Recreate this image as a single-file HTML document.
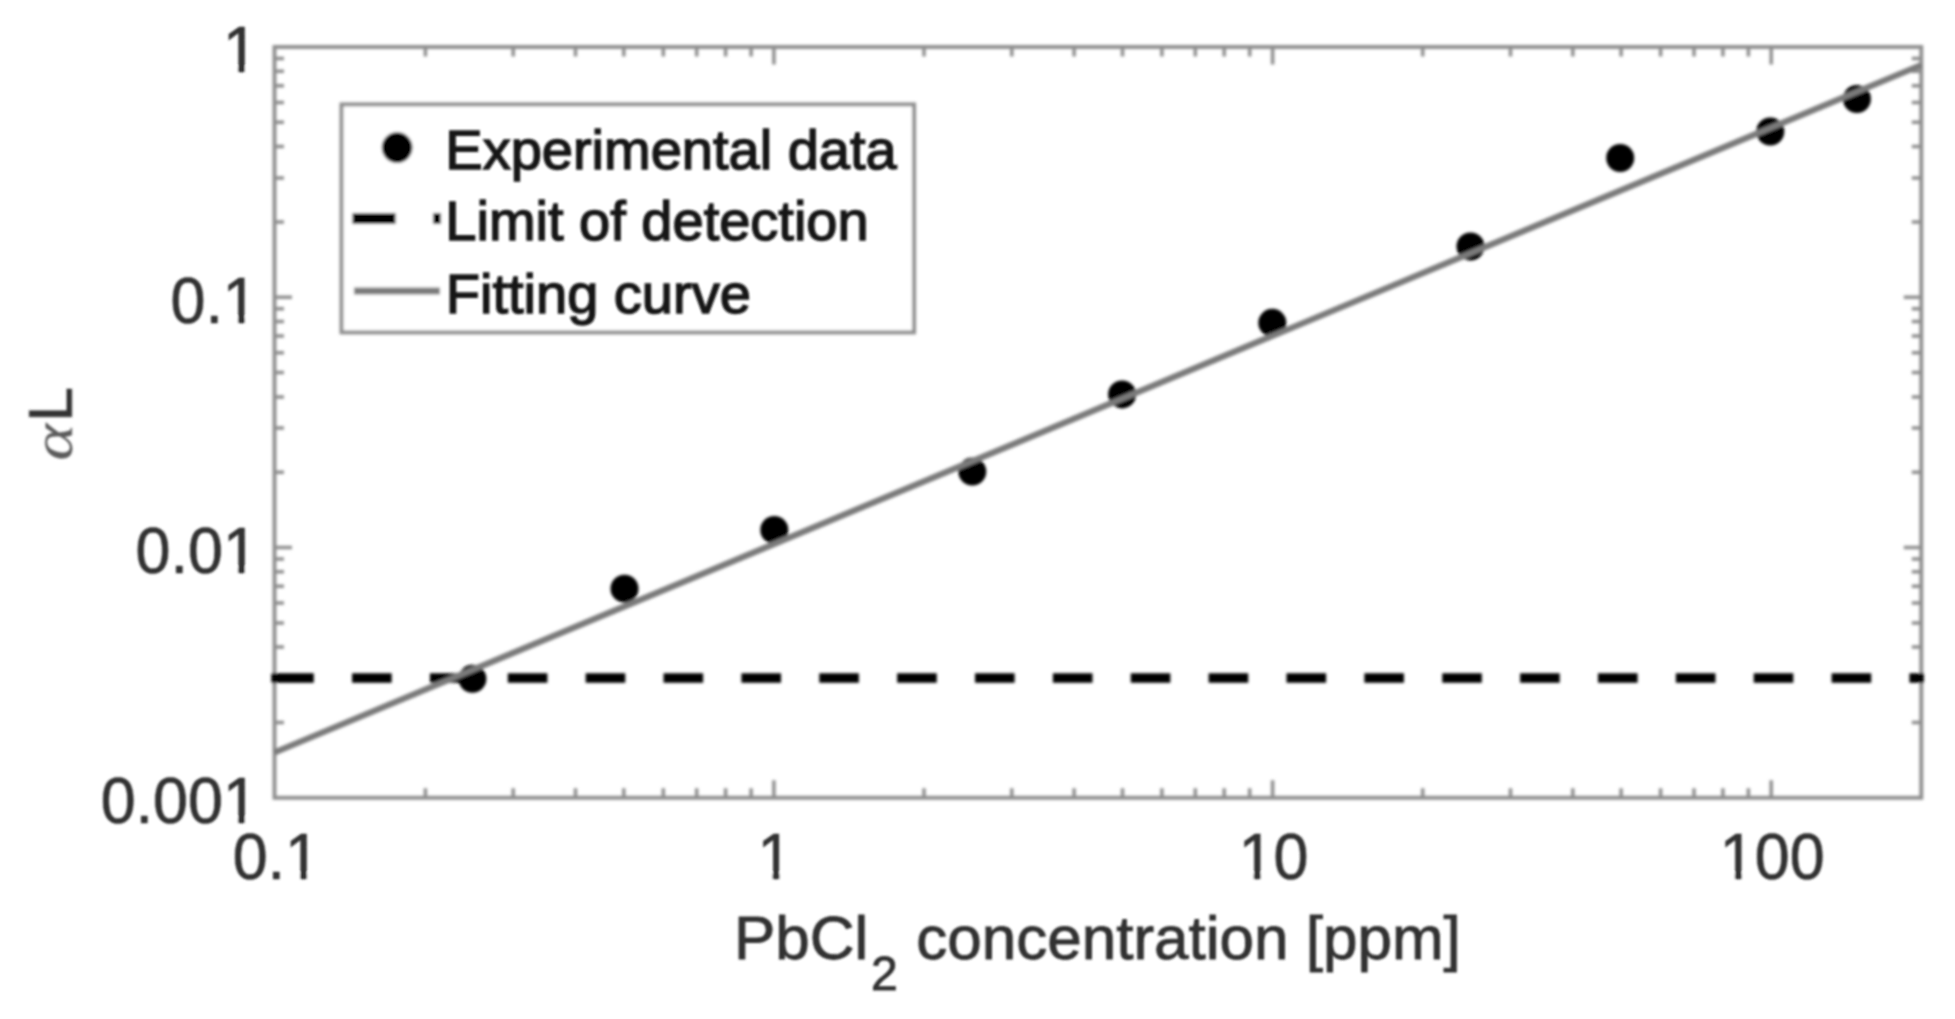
<!DOCTYPE html>
<html lang="en"><head><meta charset="utf-8"><title>PbCl2 concentration vs absorbance</title>
<style>
html,body{margin:0;padding:0;background:#fff;}
body{width:1955px;height:1019px;overflow:hidden;}
svg{display:block;}
text{font-family:"Liberation Sans",sans-serif;fill:#303030;stroke:#303030;stroke-width:0.9px;}
.tl{font-size:62px;}
.tk{font-size:62.8px;stroke-width:0.7px;}
.lg{font-size:56px;fill:#151515;stroke:#151515;stroke-width:1.5px;}
.al{font-family:"Liberation Serif",serif;font-style:italic;fill:#5c5c5c;stroke:none;}
</style></head><body>
<svg width="1955" height="1019" viewBox="0 0 1955 1019">
<defs><filter id="b" x="-2%" y="-2%" width="104%" height="104%"><feGaussianBlur stdDeviation="1.4"/></filter><filter id="bt" x="-2%" y="-2%" width="104%" height="104%"><feGaussianBlur stdDeviation="1.05"/></filter></defs>
<rect width="1955" height="1019" fill="#fff"/>
<g filter="url(#b)">
<path d="M425.4 797.8v-9.5M425.4 47.0v9.5M513.2 797.8v-9.5M513.2 47.0v9.5M575.5 797.8v-9.5M575.5 47.0v9.5M623.8 797.8v-9.5M623.8 47.0v9.5M663.3 797.8v-9.5M663.3 47.0v9.5M696.7 797.8v-9.5M696.7 47.0v9.5M725.6 797.8v-9.5M725.6 47.0v9.5M751.1 797.8v-9.5M751.1 47.0v9.5M773.9 797.8v-17.5M773.9 47.0v17.5M924.0 797.8v-9.5M924.0 47.0v9.5M1011.8 797.8v-9.5M1011.8 47.0v9.5M1074.1 797.8v-9.5M1074.1 47.0v9.5M1122.5 797.8v-9.5M1122.5 47.0v9.5M1161.9 797.8v-9.5M1161.9 47.0v9.5M1195.3 797.8v-9.5M1195.3 47.0v9.5M1224.2 797.8v-9.5M1224.2 47.0v9.5M1249.7 797.8v-9.5M1249.7 47.0v9.5M1272.6 797.8v-17.5M1272.6 47.0v17.5M1422.7 797.8v-9.5M1422.7 47.0v9.5M1510.5 797.8v-9.5M1510.5 47.0v9.5M1572.8 797.8v-9.5M1572.8 47.0v9.5M1621.1 797.8v-9.5M1621.1 47.0v9.5M1660.6 797.8v-9.5M1660.6 47.0v9.5M1694.0 797.8v-9.5M1694.0 47.0v9.5M1722.9 797.8v-9.5M1722.9 47.0v9.5M1748.4 797.8v-9.5M1748.4 47.0v9.5M1771.2 797.8v-17.5M1771.2 47.0v17.5M274.5 722.5h9.5M1921.3 722.5h-9.5M274.5 678.4h9.5M1921.3 678.4h-9.5M274.5 647.1h9.5M1921.3 647.1h-9.5M274.5 622.9h9.5M1921.3 622.9h-9.5M274.5 603.1h9.5M1921.3 603.1h-9.5M274.5 586.3h9.5M1921.3 586.3h-9.5M274.5 571.8h9.5M1921.3 571.8h-9.5M274.5 559.0h9.5M1921.3 559.0h-9.5M274.5 547.5h17.5M1921.3 547.5h-17.5M274.5 472.2h9.5M1921.3 472.2h-9.5M274.5 428.1h9.5M1921.3 428.1h-9.5M274.5 396.9h9.5M1921.3 396.9h-9.5M274.5 372.6h9.5M1921.3 372.6h-9.5M274.5 352.8h9.5M1921.3 352.8h-9.5M274.5 336.0h9.5M1921.3 336.0h-9.5M274.5 321.5h9.5M1921.3 321.5h-9.5M274.5 308.7h9.5M1921.3 308.7h-9.5M274.5 297.3h17.5M1921.3 297.3h-17.5M274.5 221.9h9.5M1921.3 221.9h-9.5M274.5 177.9h9.5M1921.3 177.9h-9.5M274.5 146.6h9.5M1921.3 146.6h-9.5M274.5 122.3h9.5M1921.3 122.3h-9.5M274.5 102.5h9.5M1921.3 102.5h-9.5M274.5 85.8h9.5M1921.3 85.8h-9.5M274.5 71.3h9.5M1921.3 71.3h-9.5M274.5 58.5h9.5M1921.3 58.5h-9.5" stroke="#8e8e8e" stroke-width="3.5" fill="none"/>
<rect x="274.5" y="47.0" width="1646.8" height="750.8" fill="none" stroke="#8e8e8e" stroke-width="3.9"/>
<circle cx="472.4" cy="678.8" r="14" fill="#000"/>
<circle cx="624.5" cy="588.7" r="14" fill="#000"/>
<circle cx="774.3" cy="529.9" r="14" fill="#000"/>
<circle cx="972.3" cy="471.6" r="14" fill="#000"/>
<circle cx="1122.1" cy="394.4" r="14" fill="#000"/>
<circle cx="1272.3" cy="322.8" r="14" fill="#000"/>
<circle cx="1470.5" cy="246.5" r="14" fill="#000"/>
<circle cx="1620.2" cy="158.0" r="14" fill="#000"/>
<circle cx="1770.3" cy="131.5" r="14" fill="#000"/>
<circle cx="1856.9" cy="99.0" r="14" fill="#000"/>
<path d="M274.2 678H1923.8M271.3 678h4" stroke="#000" stroke-width="9.5" stroke-dasharray="39.6 38.27" fill="none"/>
<path d="M274.5 752.5L1921.3 65" stroke="#7a7a7a" stroke-width="6.2" fill="none"/>
<rect x="341.5" y="104.4" width="572.6" height="228" fill="#fff" stroke="#8e8e8e" stroke-width="3.9"/>
<circle cx="397.1" cy="147.6" r="15.3" fill="#000"/>
<path d="M352.5 218.5H441" stroke="#000" stroke-width="11" stroke-dasharray="43 37.5 8.5 100" fill="none"/>
<path d="M354 291H440" stroke="#7a7a7a" stroke-width="6.8" fill="none"/>
</g><g filter="url(#bt)">
<text class="lg" x="445.3" y="168.7">Experimental data</text>
<text class="lg" x="445.3" y="240">Limit of detection</text>
<text class="lg" x="445.8" y="313.4">Fitting curve</text>
<text class="tl tk" transform="translate(276.3 878.5) scale(1 1.04)" text-anchor="middle">0.1</text>
<path d="M287.81 872.12H300.07V880.50H287.81zM307.12 872.12H318.88V880.50H307.12z" fill="#fff"/>
<text class="tl tk" transform="translate(774.9 878.5) scale(1 1.04)" text-anchor="middle">1</text>
<path d="M760.25 872.12H772.51V880.50H760.25zM779.56 872.12H791.33V880.50H779.56z" fill="#fff"/>
<text class="tl tk" transform="translate(1273.6 878.5) scale(1 1.04)" text-anchor="middle">10</text>
<path d="M1241.42 872.12H1253.68V880.50H1241.42zM1260.73 872.12H1272.50V880.50H1260.73z" fill="#fff"/>
<text class="tl tk" transform="translate(1772.2 878.5) scale(1 1.04)" text-anchor="middle">100</text>
<path d="M1722.59 872.12H1734.85V880.50H1722.59zM1741.90 872.12H1753.67V880.50H1741.90z" fill="#fff"/>
<text class="tl tk" transform="translate(257.8 72.4) scale(1 1.04)" text-anchor="end">1</text>
<path d="M225.66 66.02H237.92V74.40H225.66zM244.97 66.02H256.73V74.40H244.97z" fill="#fff"/>
<text class="tl tk" transform="translate(257.8 322.7) scale(1 1.04)" text-anchor="end">0.1</text>
<path d="M225.66 316.29H237.92V324.67H225.66zM244.97 316.29H256.73V324.67H244.97z" fill="#fff"/>
<text class="tl tk" transform="translate(257.8 572.9) scale(1 1.04)" text-anchor="end">0.01</text>
<path d="M225.66 566.55H237.92V574.93H225.66zM244.97 566.55H256.73V574.93H244.97z" fill="#fff"/>
<text class="tl tk" transform="translate(257.8 823.2) scale(1 1.04)" text-anchor="end">0.001</text>
<path d="M225.66 816.82H237.92V825.20H225.66zM244.97 816.82H256.73V825.20H244.97z" fill="#fff"/>
<text class="tl" x="734" y="959">PbCl<tspan dx="2.5" dy="31" font-size="48">2</tspan><tspan dx="1.5" dy="-31"> concentration [ppm]</tspan></text>
<text class="tl" transform="translate(71.5 460.7) rotate(-90)"><tspan class="al" font-size="58" textLength="37" lengthAdjust="spacingAndGlyphs">α</tspan><tspan dx="2">L</tspan></text>
</g></svg></body></html>
